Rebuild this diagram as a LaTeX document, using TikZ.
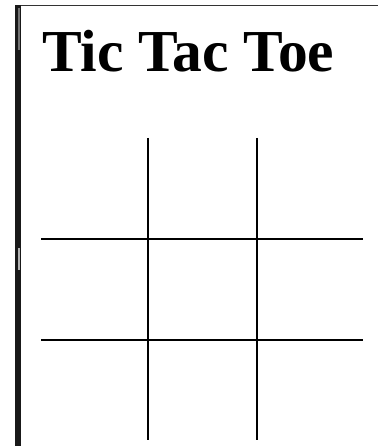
\documentclass[tikz,border=0pt]{standalone}
\usepackage{fontspec}
\setmainfont{Liberation Serif}
\begin{document}
\begin{tikzpicture}[x=1pt,y=-1pt,
  gridline/.style={line width=2.2pt,black},
  frame/.style={line width=1.6pt,black!80}]
\useasboundingbox[fill=white] (0,0) rectangle (378,446);
% frame
\draw[frame] (15,5.5) -- (378,5.5);
\fill[black!90] (15,5) rectangle (21,446);
\fill[black!55] (18,8) rectangle (20,50);
\fill[black!30] (17.5,248) rectangle (19.5,270);
% title
\node[anchor=base west,inner sep=0pt,font=\bfseries\fontsize{59.5}{62}\selectfont] (title) at (42,71.7) {Tic Tac Toe};
% grid
\draw[gridline] (148.3,138) -- (148.3,440);
\draw[gridline] (256.7,138) -- (256.7,440);
\draw[gridline] (41,239) -- (363,239);
\draw[gridline] (41,340) -- (363,340);
\end{tikzpicture}
\end{document}
